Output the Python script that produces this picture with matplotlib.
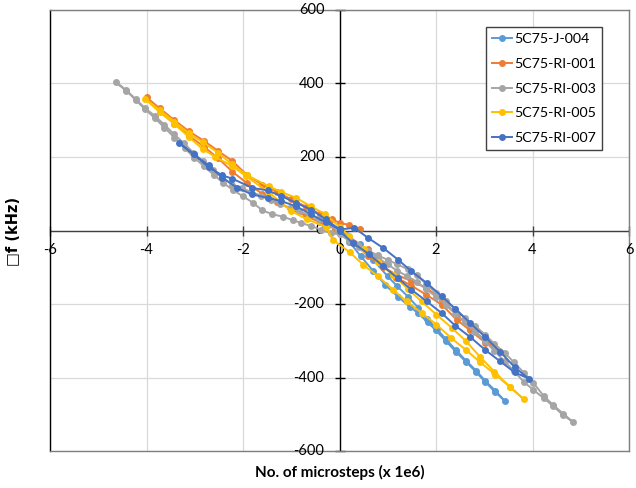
import matplotlib
matplotlib.use("Agg")
import matplotlib.pyplot as plt
from matplotlib.transforms import offset_copy

# ---------------- data ----------------
series_names = ["5C75-J-004", "5C75-RI-001", "5C75-RI-003", "5C75-RI-005", "5C75-RI-007"]
series_colors = ["#5B9BD5", "#ED7D31", "#A5A5A5", "#FFC000", "#4472C4"]

j004_x = [0.00, 0.15, 0.42, 0.70, 1.00, 1.20, 1.42, 1.63, 1.81, 2.02, 2.20, 2.41, 2.62, 2.83, 3.02, 3.23, 3.42,
          3.23, 3.02, 2.83, 2.62, 2.41, 2.20, 2.00, 1.83, 1.63, 1.46, 1.21, 0.94, 0.70, 0.44, 0.20]
j004_y = [0, -12, -38, -80, -125, -152, -180, -210, -240, -268, -295, -325, -354, -381, -409, -436, -463,
          -440, -412, -385, -357, -330, -300, -272, -250, -225, -208, -180, -147, -110, -70, -30]

ri001_x = [0.42, 0.20, 0.00, -0.15, -0.40, -0.70, -1.00, -1.30, -1.60, -1.91, -2.22, -2.51, -2.81, -3.12, -3.42, -3.72, -4.00,
           -3.72, -3.42, -3.12, -2.81, -2.51, -2.22, -1.91, -1.60, -1.30, -1.00, -0.70, -0.40, -0.10,
           0.30, 0.60, 0.90, 1.18, 1.49, 1.80, 2.12, 2.43, 2.71, 3.02, 3.30,
           3.02, 2.71, 2.43, 2.12, 1.80, 1.49, 1.18, 0.90, 0.60]
ri001_y = [3, 15, 21, 30, 45, 65, 85, 105, 125, 150, 189, 216, 244, 270, 300, 332, 362,
           325, 290, 258, 228, 196, 160, 128, 100, 78, 58, 40, 22, 5,
           -35, -70, -100, -120, -138, -156, -188, -229, -265, -298, -328,
           -305, -272, -243, -202, -175, -150, -128, -95, -50]

ri003_x = [-0.03, -0.23, -0.43, -0.63, -0.83, -1.03, -1.23, -1.43, -1.63, -1.83, -2.03, -2.23, -2.43, -2.63, -2.83,
           -3.03, -3.23, -3.43, -3.63, -3.83, -4.03, -4.22, -4.42, -4.63,
           -4.42, -4.22, -4.03, -3.82, -3.63, -3.42, -3.21, -3.01, -2.81, -2.61, -2.41, -2.21, -2.01, -1.80,
           -1.60, -1.39, -1.18, -0.97, -0.80, -0.59, -0.38, -0.18,
           0.00, 0.20, 0.40, 0.60, 0.80, 1.00, 1.20, 1.40, 1.60, 1.80, 2.00, 2.20, 2.40, 2.60, 2.81, 3.02, 3.21,
           3.42, 3.62, 3.82, 4.02, 4.23, 4.43, 4.64, 4.83,
           4.64, 4.43, 4.23, 4.02, 3.82, 3.62, 3.42, 3.21, 3.02, 2.81, 2.60, 2.40, 2.20, 2.00, 1.80, 1.60,
           1.42, 1.20, 1.00, 0.80, 0.60, 0.38, 0.20]
ri003_y = [0, 15, 30, 42, 52, 62, 72, 82, 95, 105, 115, 125, 145, 165, 188,
           212, 238, 262, 288, 312, 333, 357, 382, 403,
           380, 355, 330, 305, 280, 253, 224, 198, 175, 152, 130, 110, 94, 76,
           55, 44, 38, 28, 21, 12, 2, -8,
           -10, -28, -45, -60, -75, -92, -110, -124, -140, -160, -180, -203, -226, -250, -276, -302, -328,
           -355, -383, -412, -434, -456, -478, -503, -520,
           -499, -475, -450, -415, -387, -359, -333, -308, -284, -259, -238, -214, -192, -170, -146, -122,
           -106, -92, -80, -68, -55, -40, -20]

ri005_x = [0.20, 0.00, -0.30, -0.60, -0.90, -1.21, -1.46, -1.91, -2.23, -2.52, -2.83, -3.12, -3.42, -3.73, -4.03,
           -3.73, -3.42, -3.12, -2.83, -2.57, -2.22, -1.94, -1.46, -1.00, -0.67, -0.28, -0.14,
           0.21, 0.49, 0.80, 1.11, 1.39, 1.70, 2.01, 2.31, 2.63, 2.92, 3.23, 3.53, 3.82,
           3.53, 3.21, 2.92, 2.63, 2.33, 2.01, 1.70, 1.41, 1.10, 0.80, 0.50]
ri005_y = [-15, 10, 45, 66, 89, 105, 120, 150, 180, 212, 240, 264, 296, 328, 359,
           322, 290, 254, 221, 200, 175, 148, 103, 53, 30, 10, -25,
           -59, -93, -125, -161, -193, -224, -256, -292, -326, -359, -392, -425, -459,
           -426, -384, -345, -302, -265, -229, -193, -158, -120, -85, -50]

ri007_x = [0.00, -0.28, -0.59, -0.90, -1.21, -1.49, -1.81, -2.12, -2.43, -2.71, -3.02, -3.33,
           -3.02, -2.71, -2.43, -2.22, -1.81, -1.49, -1.21, -0.90, -0.59, -0.28, 0.00,
           0.31, 0.59, 0.90, 1.21, 1.49, 1.81, 2.12, 2.40, 2.71, 3.02, 3.33, 3.63, 3.92,
           3.63, 3.33, 3.02, 2.71, 2.40, 2.12, 1.81, 1.49, 1.21, 0.90, 0.62, 0.28, 0.00]
ri007_y = [3, 22, 44, 66, 80, 89, 98, 116, 144, 177, 207, 239,
           207, 172, 150, 141, 116, 109, 94, 75, 57, 30, 3,
           7, -20, -47, -79, -111, -143, -179, -213, -252, -290, -330, -372, -403,
           -386, -356, -325, -290, -259, -225, -193, -161, -130, -97, -65, -34, -2]

all_x = [j004_x, ri001_x, ri003_x, ri005_x, ri007_x]
all_y = [j004_y, ri001_y, ri003_y, ri005_y, ri007_y]

x_ticks = [-6, -4, -2, 0, 2, 4, 6]
y_ticks = [-600, -400, -200, 0, 200, 400, 600]
x_label = "No. of microsteps (x 1e6)"
y_label = "\u25a1f (kHz)"

# ---------------- figure ----------------
plt.rcParams['font.family'] = ['Lato', 'DejaVu Sans']
W, H = 636, 488
fig = plt.figure(figsize=(W / 100, H / 100), dpi=100)
ax = fig.add_axes([50 / W, 1 - 451 / H, (629 - 50) / W, (451 - 10) / H])
ax.set_xlim(-6, 6)
ax.set_ylim(-600, 600)
ax.set_xticks(x_ticks)
ax.set_yticks(y_ticks)
ax.tick_params(length=0, labelbottom=False, labelleft=False)
ax.grid(True, color="#D9D9D9", linewidth=0.9)
ax.set_axisbelow(True)
for side in ["top", "right", "bottom"]:
    ax.spines[side].set_color("#7F7F7F")
    ax.spines[side].set_linewidth(1.0)
ax.spines["left"].set_color("#000000")
ax.spines["left"].set_linewidth(1.0)

# axes crossing at zero
ax.axhline(0, color="#404040", linewidth=1.0, zorder=1.5)
ax.axvline(0, color="#000000", linewidth=1.0, zorder=1.5)
ax.plot(x_ticks, [0] * len(x_ticks), linestyle="none", marker="|", markersize=7,
        markeredgewidth=1.0, color="#404040", zorder=1.6, clip_on=False)
ax.plot([0] * len(y_ticks), y_ticks, linestyle="none", marker="_", markersize=7,
        markeredgewidth=1.0, color="#000000", zorder=1.6, clip_on=False)

lab_font = dict(fontsize=10.5, color="#000000")
for xv in x_ticks:
    tr = offset_copy(ax.transData, fig=fig, x=0, y=-19, units="dots")
    ax.text(xv, 0, str(xv), transform=tr, ha="center", va="center", **lab_font)
for yv in y_ticks:
    tr = offset_copy(ax.transData, fig=fig, x=-15, y=0, units="dots")
    ax.text(0, yv, str(yv), transform=tr, ha="right", va="center", **lab_font)

# series
for name, col, xs, ys in zip(series_names, series_colors, all_x, all_y):
    ax.plot(xs, ys, color=col, linewidth=1.4, marker="o", markersize=5.0,
            markeredgewidth=0, label=name, zorder=3)

fig.text(340 / W, 1 - 472 / H, x_label, ha="center", va="center",
         fontsize=11, fontweight="bold")
fig.text(13 / W, 1 - 231 / H, y_label, ha="center", va="center", rotation=90,
         fontsize=10.5, fontweight="bold", family=["DejaVu Sans"])

leg = ax.legend(loc="upper left", bbox_to_anchor=(486 / W, 1 - 27 / H),
                bbox_transform=fig.transFigure, frameon=True, fancybox=False,
                edgecolor="#404040", framealpha=1, fontsize=10.3,
                handlelength=1.45, handletextpad=0.1, labelspacing=0.9,
                borderpad=0.4, borderaxespad=0)
leg.get_frame().set_linewidth(1.0)

fig.savefig("out.png", dpi=100)
